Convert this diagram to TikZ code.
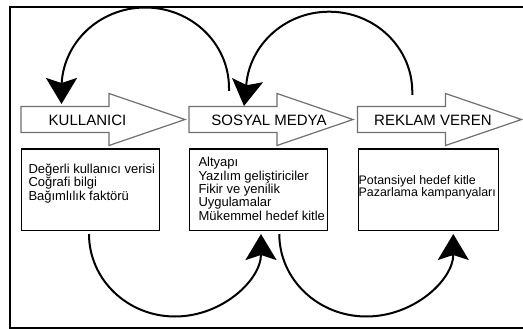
\documentclass[tikz,border=0pt]{standalone}
\usepackage{fontspec}
\setmainfont{Liberation Sans}
\usetikzlibrary{arrows.meta}
\definecolor{arrowgray}{HTML}{707070}
\begin{document}
\begin{tikzpicture}[x=1pt,y=-1pt,
  frame/.style={line width=2pt},
  flowarrow/.style={draw=arrowgray, fill=white, line width=1.2pt, line join=miter},
  flowlabel/.style={anchor=base, inner sep=0pt, font=\fontsize{15}{18}\selectfont},
  infobox/.style={draw, line width=1.4pt, fill=white, anchor=north west, inner sep=0pt,
                  minimum width=138pt, minimum height=81.7pt},
  infotext/.style={anchor=base west, inner sep=0pt, font=\fontsize{13}{13.3}\selectfont},
  loop/.style={line width=2pt, -{Stealth[length=26pt,width=31pt,inset=5pt]}},
]
\useasboundingbox (0,0) rectangle (523,329);

% outer frame (its right edge lies beyond the page)
\draw[frame] (9.5,7) rectangle (540,328);

% block arrows of the flow
\foreach \L in {21,189,357.5}{
  \draw[flowarrow] (\L,106.5) -- (\L+88,106.5) -- (\L+88,93.5) -- (\L+164,119.5)
    -- (\L+88,145.5) -- (\L+88,132.5) -- (\L,132.5) -- cycle;
}
\node[flowlabel] (user)  at (87.5,125) {KULLANICI};
\node[flowlabel] (media) at (269,125)  {SOSYAL MEDYA};
\node[flowlabel] (ad)    at (433,125)  {REKLAM VEREN};

% information boxes
\node[infobox] (userbox)  at (21,148.3)  {};
\node[infobox] (mediabox) at (189,148.3) {};
\node[infobox, minimum width=140pt] (adbox) at (358,148.3) {};

\node[infotext] (usertext) at (28.3,173.3)
  {\begin{tabular}[t]{@{}l@{}}Değerli kullanıcı verisi\\Coğrafi bilgi\\Bağımlılık faktörü\end{tabular}};
\node[infotext] (mediatext) at (198.3,166.7)
  {\begin{tabular}[t]{@{}l@{}}Altyapı\\Yazılım geliştiriciler\\Fikir ve yenilik\\Uygulamalar\\Mükemmel hedef kitle\end{tabular}};
\node[infotext, font=\fontsize{12.4}{13}\selectfont] (adtext) at (358.5,184)
  {\begin{tabular}[t]{@{}l@{}}Potansiyel hedef kitle\\Pazarlama kampanyaları\end{tabular}};

% end points of the looping connectors
\coordinate (mediaUp)   at (229,91);
\coordinate (userIn)    at (61.5,104);
\coordinate (adUp)      at (412.3,95);
\coordinate (mediaIn)   at (244,106);
\coordinate (userDown)  at (89,234);
\coordinate (mediaDown) at (279.3,234);

% feedback loops above the flow
\draw[loop] (mediaUp) -- ++(0,-3)
  arc[start angle=0, end angle=180, x radius=83.75pt, y radius=80.5pt] -- (userIn);
\draw[loop] (adUp) -- ++(0,-3)
  arc[start angle=0, end angle=180, x radius=83.2pt, y radius=80.3pt] -- (mediaIn);

% loops below the boxes
\draw[loop] (userDown)
  arc[start angle=180, end angle=360, x radius=86pt, y radius=82.5pt];
\draw[loop] (mediaDown)
  arc[start angle=180, end angle=360, x radius=87pt, y radius=82.5pt];
\end{tikzpicture}
\end{document}
